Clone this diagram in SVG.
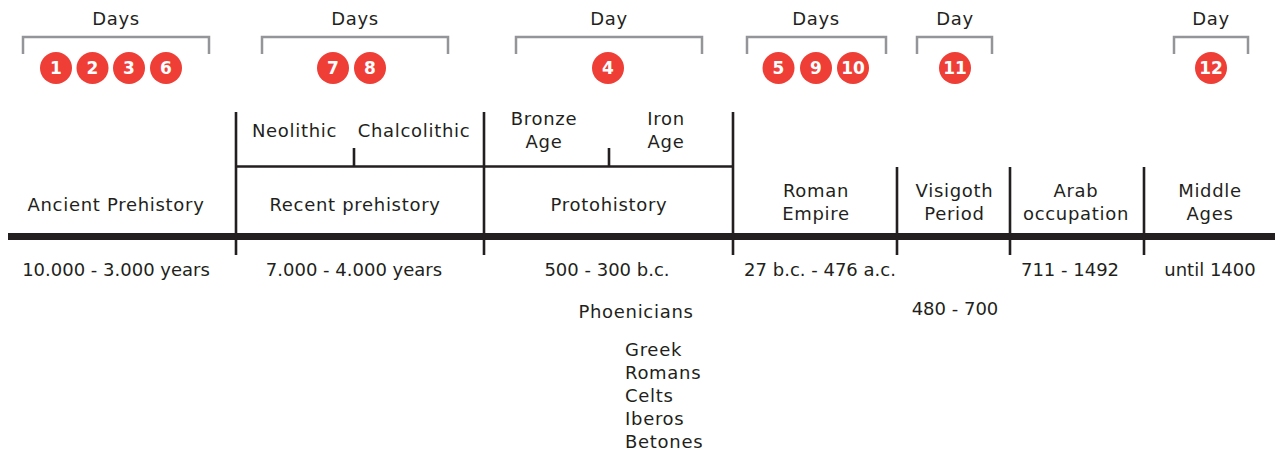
<svg xmlns="http://www.w3.org/2000/svg" width="1275" height="453" viewBox="0 0 1275 453">
<style>
text{font-family:"DejaVu Sans","Open Sans",sans-serif;font-size:18px;letter-spacing:0.7px;fill:#231f20;text-anchor:middle}
.d{letter-spacing:0}
.l{text-anchor:start}
.n{fill:#fff;font-weight:bold;font-size:17px;letter-spacing:0}
.b{fill:none;stroke:#939598;stroke-width:2.5}
.c{fill:#ef3e36}
.v{stroke:#231f20;stroke-width:2.6;fill:none}
</style>
<rect width="1275" height="453" fill="#fff"/>
<g id="brackets">
<path class="b" d="M23 54V37H209V54"/>
<path class="b" d="M262 54V37H448V54"/>
<path class="b" d="M516 54V37H702V54"/>
<path class="b" d="M747 54V37H886V54"/>
<path class="b" d="M917 54V37H992V54"/>
<path class="b" d="M1174 54V37H1248V54"/>
<text x="116" y="25">Days</text>
<text x="355" y="25">Days</text>
<text x="609" y="25">Day</text>
<text x="816" y="25">Days</text>
<text x="955" y="25">Day</text>
<text x="1211" y="25">Day</text>
</g>
<g id="days">
<circle class="c" cx="56" cy="68" r="16"/><text class="n" x="56" y="74">1</text>
<circle class="c" cx="92.5" cy="68" r="16"/><text class="n" x="92.5" y="74">2</text>
<circle class="c" cx="129" cy="68" r="16"/><text class="n" x="129" y="74">3</text>
<circle class="c" cx="166" cy="68" r="16"/><text class="n" x="166" y="74">6</text>
<circle class="c" cx="333" cy="68" r="16"/><text class="n" x="333" y="74">7</text>
<circle class="c" cx="370" cy="68" r="16"/><text class="n" x="370" y="74">8</text>
<circle class="c" cx="608" cy="68" r="16"/><text class="n" x="608" y="74">4</text>
<circle class="c" cx="778.5" cy="68" r="16"/><text class="n" x="778.5" y="74">5</text>
<circle class="c" cx="816" cy="68" r="16"/><text class="n" x="816" y="74">9</text>
<circle class="c" cx="853" cy="68" r="16"/><text class="n" x="853" y="74">10</text>
<circle class="c" cx="955" cy="68" r="16"/><text class="n" x="955" y="74">11</text>
<circle class="c" cx="1211" cy="68" r="16"/><text class="n" x="1211" y="74">12</text>
</g>
<g id="connectors">
<rect x="8" y="233" width="1267" height="7" fill="#231f20"/>
<path class="v" d="M236 112V255M484 112V255M733 112V255M897 167V255M1010 167V255M1144 167V255M236 166.5H733M354 148V166.5M609 148V166.5"/>
</g>
<g id="periods">
<text x="116" y="211">Ancient Prehistory</text>
<text x="355" y="211">Recent prehistory</text>
<text x="609" y="211">Protohistory</text>
<text x="294.5" y="137">Neolithic</text>
<text x="414" y="137">Chalcolithic</text>
<text x="544" y="125">Bronze</text><text x="544" y="148">Age</text>
<text x="666" y="125">Iron</text><text x="666" y="148">Age</text>
<text x="816" y="197">Roman</text><text x="816" y="220">Empire</text>
<text x="954.5" y="197">Visigoth</text><text x="954.5" y="220">Period</text>
<text x="1076" y="197">Arab</text><text x="1076" y="220">occupation</text>
<text x="1210" y="197">Middle</text><text x="1210" y="220">Ages</text>
</g>
<g id="dates">
<text class="d" x="116" y="276">10.000 - 3.000 years</text>
<text class="d" x="354" y="276">7.000 - 4.000 years</text>
<text class="d" x="607" y="276">500 - 300 b.c.</text>
<text class="d" x="820" y="276">27 b.c. - 476 a.c.</text>
<text class="d" x="955" y="315">480 - 700</text>
<text class="d" x="1070" y="276">711 - 1492</text>
<text class="d" x="1210" y="276">until 1400</text>
<text x="636" y="318">Phoenicians</text>
<text class="l" x="625" y="356">Greek</text>
<text class="l" x="625" y="379">Romans</text>
<text class="l" x="625" y="402">Celts</text>
<text class="l" x="625" y="425">Iberos</text>
<text class="l" x="625" y="448">Betones</text>
</g>
</svg>
